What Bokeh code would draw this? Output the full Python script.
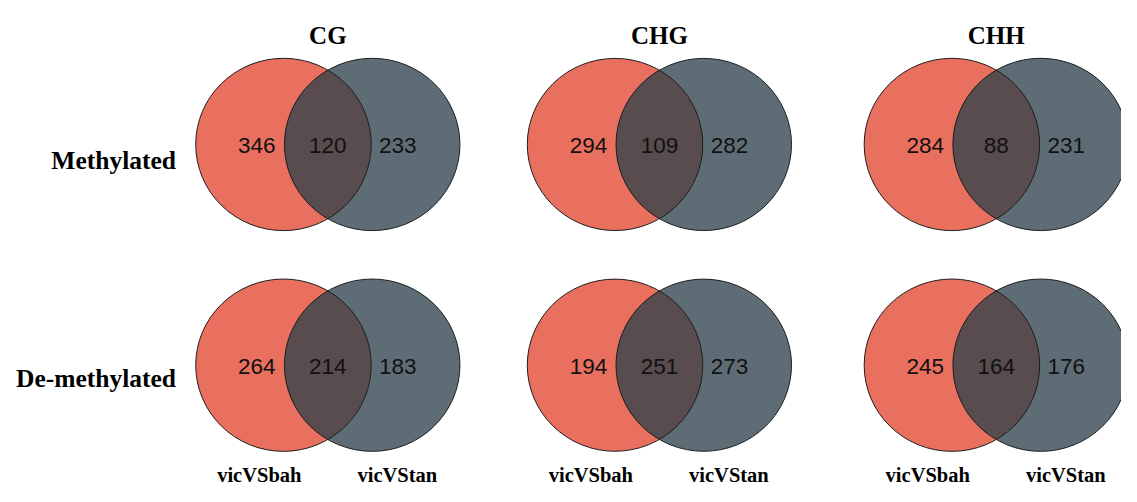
import numpy as np
from bokeh.plotting import figure
from bokeh.models import Range1d
from bokeh.core.properties import value
from bokeh.embed import file_html
from bokeh.resources import INLINE

# ---- data ----
contexts = ["CG", "CHG", "CHH"]
row_labels = ["Methylated", "De-methylated"]
set_names = ["vicVSbah", "vicVStan"]
left_only = [[346, 294, 284], [264, 194, 245]]
overlap = [[120, 109, 88], [214, 251, 164]]
right_only = [[233, 282, 231], [183, 273, 176]]

# ---- layout (reference-pixel coordinates) ----
col_mid = [332.0, 668.3, 1010.0]
row_cy = [148.7, 376.7]
R = 89.0
HALF = 45.0
RED = "#E9705E"
GRAY = "#5E6D75"
MIX = "#594C4F"
EDGE = "#1e1e1e"

p = figure(width=1121, height=486, output_backend="svg", toolbar_location=None,
           x_range=Range1d(0, 1137), y_range=Range1d(502, 0),
           x_axis_location=None, y_axis_location=None,
           min_border=0, min_border_left=0, min_border_right=0,
           min_border_top=0, min_border_bottom=0)
p.grid.visible = False
p.outline_line_color = None
p.background_fill_color = "white"
p.border_fill_color = "white"

lx, rx, cys = [], [], []
for ri in range(len(row_labels)):
    for ci in range(len(contexts)):
        lx.append(col_mid[ci] - HALF)
        rx.append(col_mid[ci] + HALF)
        cys.append(row_cy[ri])

p.ellipse(x=lx, y=cys, width=2 * R, height=2 * R, fill_color=RED, line_color=None)
p.ellipse(x=rx, y=cys, width=2 * R, height=2 * R, fill_color=GRAY, line_color=None)

# lens (intersection) shapes derived from the circle geometry
theta = np.arccos(HALF / R)
xs_l, ys_l = [], []
for a, b, cy in zip(lx, rx, cys):
    t1 = np.linspace(-theta, theta, 80)
    t2 = np.linspace(np.pi - theta, np.pi + theta, 80)
    xx = np.concatenate([a + R * np.cos(t1), b + R * np.cos(t2)])
    yy = np.concatenate([cy + R * np.sin(t1), cy + R * np.sin(t2)])
    xs_l.append(list(xx))
    ys_l.append(list(yy))
p.patches(xs=xs_l, ys=ys_l, fill_color=MIX, line_color=None)

p.ellipse(x=lx + rx, y=cys + cys, width=2 * R, height=2 * R, fill_color=None,
          line_color=EDGE, line_width=1)

# numbers
nx, ny, nt = [], [], []
for ri in range(len(row_labels)):
    for ci in range(len(contexts)):
        m = col_mid[ci]
        cy = row_cy[ri] + 1.5
        nx += [m - HALF - 27, m, m + HALF + 26]
        ny += [cy, cy, cy]
        nt += [str(left_only[ri][ci]), str(overlap[ri][ci]), str(right_only[ri][ci])]
p.text(x=nx, y=ny, text=nt, text_font=value("Liberation Sans"), text_font_size="22.5px",
       text_align="center", text_baseline="middle", text_color="#111111")

# column titles
p.text(x=col_mid, y=[36] * 3, text=contexts, text_font=value("Liberation Serif"),
       text_font_style="bold", text_font_size="25px", text_align="center",
       text_baseline="alphabetic", text_color="black")

# row labels
p.text(x=[178, 178], y=[165, 390], text=row_labels, text_font=value("Liberation Serif"),
       text_font_style="bold", text_font_size="25.5px", text_align="right",
       text_baseline="alphabetic", text_color="black")

# set names under each column
bx, by, bt = [], [], []
for ci in range(len(contexts)):
    bx += [col_mid[ci] - 69.5, col_mid[ci] + 70.5]
    by += [490, 490]
    bt += set_names
p.text(x=bx, y=by, text=bt, text_font=value("Liberation Serif"), text_font_style="bold",
       text_font_size="20.5px", text_align="center", text_baseline="alphabetic",
       text_color="black")

open("out.html", "w").write(file_html(p, INLINE))
